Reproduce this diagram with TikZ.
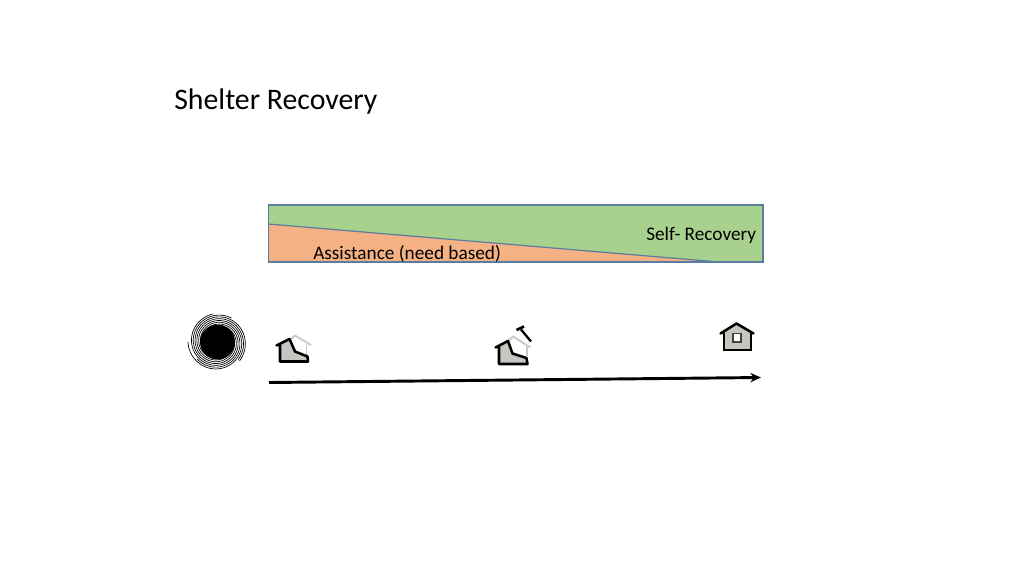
\documentclass[tikz,border=0pt]{standalone}
\usepackage{fontspec}
\setmainfont{Carlito}
\usetikzlibrary{arrows.meta}
\definecolor{barGreen}{HTML}{A9D18E}
\definecolor{barOrange}{HTML}{F4B183}
\definecolor{barEdge}{HTML}{5A7CA0}
\definecolor{houseFill}{HTML}{C4C6C0}
\definecolor{roofGrey}{HTML}{C8C8C8}
\tikzset{
  title/.style={font=\fontsize{22.35pt}{24pt}\selectfont,text=black,inner sep=0pt,anchor=west},
  barlabel/.style={font=\fontsize{14.45pt}{16pt}\selectfont,text=black,inner sep=0pt,anchor=west},
  housebold/.style={draw=black,line width=1.9pt,line join=round,line cap=round},
  houselight/.style={draw=roofGrey,line width=1.4pt,line join=round},
  timeline/.style={draw=black,line width=2.2pt,-{Stealth[length=8pt,width=7pt]}},
  edge/.style={draw=barEdge,line width=0.9pt}
}
\begin{document}
\begin{tikzpicture}[x=0.75pt,y=-0.75pt]
\useasboundingbox (0,0) rectangle (1024,576);
\node[title] (t) at (174,101.5) {Shelter Recovery};
% bar
\fill[barGreen] (268.5,205) rectangle (763,262);
\fill[barOrange] (268.5,224) -- (719,262) -- (268.5,262) -- cycle;
\draw[edge] (268.5,205) rectangle (763,262);
\draw[edge] (268.5,224) -- (719,262);
\node[barlabel] (self) at (646,235) {Self- Recovery};
\node[barlabel] (assist) at (313,253.5) {Assistance (need based)};
% storm
\fill[black] (217.5,342) circle (17.5);
\foreach \a/\l in {0/400,60/340,120/420,180/320,240/380,300/360}{
  \draw[black,line width=0.5pt,line cap=round] plot[smooth,domain=0:\l,samples=40] ({217.5+(17+\x*0.03)*cos(\a+\x)},{342+(17+\x*0.03)*sin(\a+\x)});
}
% house 1
\draw[houselight] (290,340) -- (295,335.5) -- (311,345);
\draw[houselight] (306.5,344) -- (306.5,355);
\fill[houseFill] (280,345) -- (290,340) -- (295,352) -- (307.5,357) -- (308,361.5) -- (280,361.5) -- cycle;
\draw[housebold] (276.5,345.5) -- (289.5,339) -- (295,351.5) -- (307.5,356.5) -- (308,361.5) -- (280,361.5) -- (280,344);
% house 2
\draw[houselight] (508,340.5) -- (513,336.5) -- (530.5,347.5);
\draw[houselight] (527,346) -- (527,356);
\fill[houseFill] (499,346) -- (508,341) -- (512.5,353.5) -- (526.5,358) -- (527.5,364) -- (499,364) -- cycle;
\draw[housebold] (495.5,347.5) -- (508,341) -- (512.5,353.5) -- (526.5,358) -- (527.5,364) -- (499,364) -- (499,346);
\draw[black,line width=1.7pt] (531,341.5) -- (521,329.5);
\draw[black,line width=2pt] (516.5,330) -- (524,326.5);
% house 3
\fill[houseFill] (723.5,332) -- (736.5,324) -- (750.5,332) -- (750.5,350) -- (723.5,350) -- cycle;
\draw[housebold] (720.5,333.5) -- (736.5,323.5) -- (753.5,333.5);
\draw[black,line width=1.5pt] (723.5,332) -- (723.5,349.5) -- (750.5,349.5) -- (750.5,332);
\fill[white] (733,333.5) rectangle (741,342);
\draw[black!75,line width=1pt] (733,333.5) rectangle (741,342);
% timeline
\coordinate (start) at (269,382.5);
\coordinate (end) at (761,377.5);
\draw[timeline] (start) -- (end);
\end{tikzpicture}
\end{document}
